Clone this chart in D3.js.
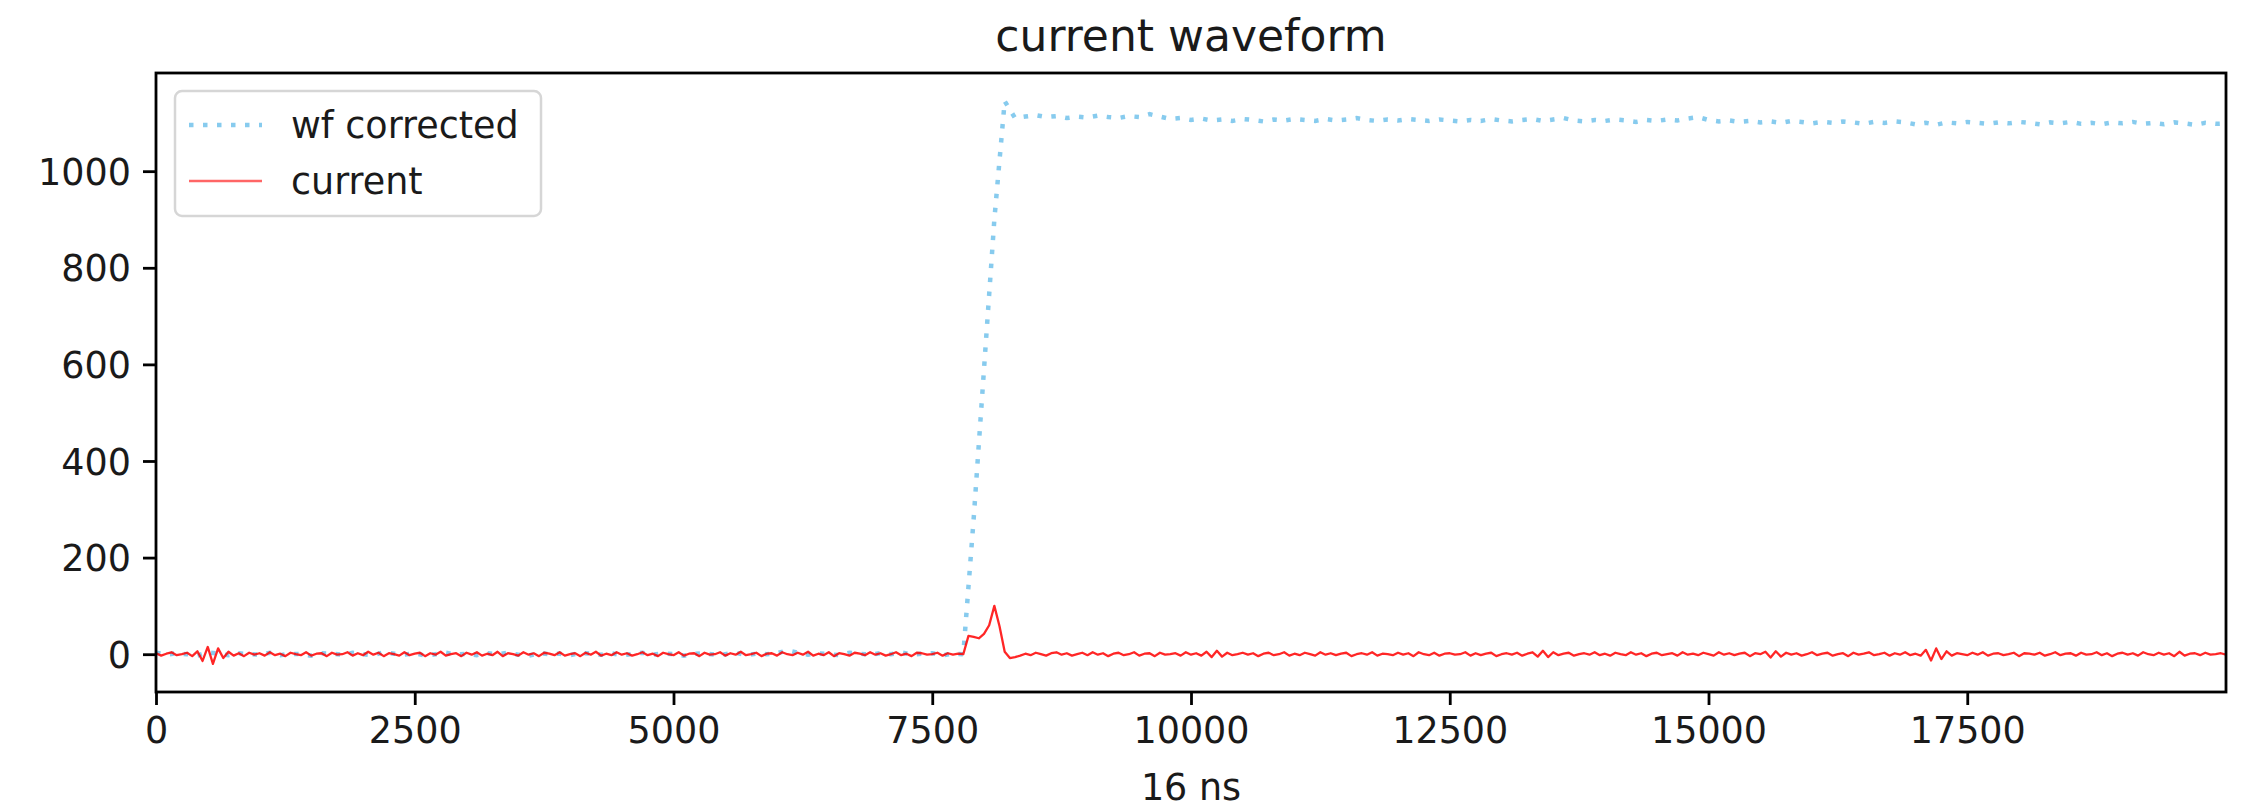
<!DOCTYPE html>
<html>
<head>
<meta charset="utf-8">
<script src="https://cdn.jsdelivr.net/npm/d3@7"></script>
<style>
  body { margin: 0; background: #fff; }
  text { font-family: 'DejaVu Sans', sans-serif; fill: #1a1a1a; }
</style>
</head>
<body>
<div id="chart-area"></div>
<script>
// sample spacing of the two traces (in 16 ns ticks)
const wfStep = 100;
const currentStep = 50;

const wfCorrected = [
  3, -1, 2, 0, -3, 4, 1, -2, 2, 0,
  -1, 3, -2, 1, 0, -3, 2, 1, -1, 3,
  0, -2, 4, 1, -1, 2, -3, 0, 3, -1,
  1, -2, 2, 0, 3, -1, -3, 2, 0, 1,
  -2, 3, 1, -1, 2, -2, 0, 3, -1, 2,
  0, -3, 1, 2, -1, 0, 3, -2, 1, 0,
  2, 8, 3, -1, 2, 0, -2, 3, 1, -1,
  2, 0, 4, -1, 1, 2, -2, 1, 0, 280,
  590, 900, 1145, 1110, 1113, 1116, 1112, 1114, 1110, 1113,
  1111, 1115, 1112, 1110, 1114, 1112, 1118, 1113, 1108, 1110,
  1106, 1109, 1105, 1107, 1104, 1108, 1106, 1103, 1107, 1105,
  1108, 1106, 1104, 1108, 1105, 1107, 1110, 1106, 1104, 1107,
  1105, 1108, 1106, 1104, 1107, 1105, 1103, 1106, 1104, 1108,
  1105, 1103, 1106, 1108, 1104, 1107, 1110, 1105, 1103, 1106,
  1104, 1107, 1105, 1102, 1106, 1104, 1107, 1105, 1109, 1112,
  1106, 1103, 1105, 1102, 1104, 1101, 1103, 1100, 1104, 1102,
  1099, 1102, 1100, 1103, 1101, 1098, 1102, 1100, 1103, 1101,
  1097, 1100, 1096, 1101, 1099, 1102, 1100, 1098, 1101, 1099,
  1102, 1100, 1097, 1101, 1099, 1102, 1098, 1100, 1097, 1101,
  1099, 1102, 1098, 1100, 1097, 1101, 1099, 1096, 1100, 1098,
  1099
];

const current = [
  2, -3, 1, 4, -2, 0, 3, -4, 6, -14, 15, -20, 12, -8, 5, -3, 2, -4, 3, -1,
  2, -3, 4, -2, 1, -4, 3, 0, -2, 4, -3, 1, 2, -4, 3, -1, 0, 4, -3, 2,
  -2, 5, -1, 3, -4, 2, 0, -3, 4, -2, 1, 3, -4, 2, -1, 5, -3, 0, 2, -4,
  3, -1, 4, -3, 1, -2, 5, -4, 2, 0, -3, 4, -1, 2, -4, 3, 1, -2, 4, -3,
  0, 2, -4, 3, -1, 5, -3, 1, -2, 4, -1, 2, -3, 0, 4, -2, 1, -4, 3, 0,
  -2, 4, -3, 1, 2, -4, 3, -1, 0, 4, -3, 2, -1, 5, -2, 0, 3, -4, 1, 2,
  -3, 4, 0, -2, 3, -1, 5, -3, 1, -2, 4, -4, 2, 0, -3, 3, 1, -2, 4, -1,
  2, -3, 0, 4, -2, 1, -4, 3, 2, -1, 0, 3, -3, 2, -1, 1, 0, 38, 36, 33,
  42, 60, 100, 58, 5, -8, -6, -3, 1, -2, 3, 0, -3, 2, 4, -1, 2, -3, 0, 3,
  -2, 4, -1, 2, -4, 1, 3, -2, 0, 4, -3, 1, 2, -4, 3, -1, 0, 2, -3, 4,
  -1, 2, -3, 5, -6, 7, -5, 3, -2, 0, 3, -1, 2, -4, 1, 3, -2, 0, 4, -3,
  1, -2, 3, 0, -3, 4, -1, 2, -2, 1, 3, -4, 0, 2, -1, 4, -3, 1, 0, -2,
  3, -1, 2, -4, 4, 0, -2, 3, -3, 1, 2, -1, 0, 4, -3, 2, -2, 1, 3, -4,
  0, 2, -1, 3, -3, 1, 4, -5, 7, -6, 4, -2, 1, 3, -3, 0, 2, -1, 4, -2,
  1, -3, 3, 0, -2, 4, -1, 2, -4, 1, 3, -2, 0, 2, -3, 4, -1, 1, -2, 3,
  0, -3, 4, -1, 2, -2, 1, 3, -4, 2, 0, 5, -7, 6, -5, 3, -1, 2, -3, 0,
  4, -2, 1, 3, -3, 0, 2, -4, 3, -1, 1, 4, -2, 0, 3, -3, 2, -1, 4, -2,
  1, -3, 9, -13, 12, -10, 6, -3, 2, 0, -2, 3, -1, 4, -3, 1, 2, -2, 0, 3,
  -4, 2, 1, -1, 3, -3, 0, 4, -2, 1, 2, -3, 3, -1, 0, 4, -2, 2, -4, 1,
  3, -1, 2, -3, 4, 0, -2, 3, -1, 2, -4, 5, -3, 1, 2, -2, 3, -1, 0, 2,
  -1
];

const xTicks = [0, 2500, 5000, 7500, 10000, 12500, 15000, 17500];
const yTicks = [0, 200, 400, 600, 800, 1000];
const seriesNames = ['wf corrected', 'current'];

const margins = { top: 73, right: 23, bottom: 117, left: 156 };
const fullWidth = 2249;
const fullHeight = 809;
const width = fullWidth - margins.left - margins.right;
const height = fullHeight - margins.top - margins.bottom;

const wfColor = '#87cbee';
const curColor = '#ff0000';

const svg = d3.select('#chart-area')
  .append('svg')
  .attr('width', fullWidth)
  .attr('height', fullHeight);

const g = svg.append('g')
  .attr('transform', 'translate(' + margins.left + ', ' + margins.top + ')');

const wfData = wfCorrected.map((v, i) => ({ x: i * wfStep, y: v }));
const curData = current.map((v, i) => ({ x: i * currentStep, y: v }));

// matplotlib style 5% padding on y
const yMin = d3.min(curData.concat(wfData), (d) => d.y);
const yMax = d3.max(curData.concat(wfData), (d) => d.y);
const pad = (yMax - yMin) * 0.05;

const x = d3.scaleLinear()
  .domain([0, 20000])
  .range([0, width]);

const y = d3.scaleLinear()
  .domain([yMin - pad, yMax + pad])
  .range([height, 0]);

svg.append('defs').append('clipPath')
  .attr('id', 'clip')
  .append('rect')
  .attr('width', width)
  .attr('height', height);

const line = d3.line()
  .x((d) => x(d.x))
  .y((d) => y(d.y));

const plot = g.append('g').attr('clip-path', 'url(#clip)');

plot.append('path')
  .datum(wfData)
  .attr('d', line)
  .attr('fill', 'none')
  .attr('stroke', wfColor)
  .attr('stroke-width', 4.5)
  .attr('stroke-dasharray', '4.5,9.5');

plot.append('path')
  .datum(curData)
  .attr('d', line)
  .attr('fill', 'none')
  .attr('stroke', curColor)
  .attr('stroke-opacity', 0.85)
  .attr('stroke-width', 2.3)
  .attr('stroke-linejoin', 'round');

// axes
const xAxis = d3.axisBottom(x)
  .tickValues(xTicks)
  .tickFormat(d3.format('d'))
  .tickSize(13)
  .tickPadding(10);

const yAxis = d3.axisLeft(y)
  .tickValues(yTicks)
  .tickFormat(d3.format('d'))
  .tickSize(13)
  .tickPadding(12);

const gx = g.append('g')
  .attr('transform', 'translate(0, ' + height + ')')
  .call(xAxis);

const gy = g.append('g').call(yAxis);

[gx, gy].forEach((ax) => {
  ax.select('.domain').remove();
  ax.selectAll('line').attr('stroke', '#000').attr('stroke-width', 2.8);
  ax.selectAll('text')
    .style('font-family', "'DejaVu Sans', sans-serif")
    .style('font-size', '36.5px')
    .attr('fill', '#1a1a1a');
});
gx.selectAll('text').attr('dy', '0.76em');
gy.selectAll('text').attr('dy', '0.36em');

// frame
g.append('rect')
  .attr('width', width)
  .attr('height', height)
  .attr('fill', 'none')
  .attr('stroke', '#000')
  .attr('stroke-width', 2.8);

// title and label
svg.append('text')
  .attr('x', margins.left + width / 2)
  .attr('y', 51)
  .attr('text-anchor', 'middle')
  .style('font-size', '44px')
  .text('current waveform');

svg.append('text')
  .attr('x', margins.left + width / 2)
  .attr('y', 800)
  .attr('text-anchor', 'middle')
  .style('font-size', '36.5px')
  .text('16 ns');

// legend
const legend = g.append('g').attr('transform', 'translate(19, 18)');

legend.append('rect')
  .attr('width', 366)
  .attr('height', 125)
  .attr('rx', 7)
  .attr('fill', '#fff')
  .attr('fill-opacity', 0.8)
  .attr('stroke', '#d6d6d6')
  .attr('stroke-width', 2.5);

const items = legend.selectAll('.item')
  .data(seriesNames)
  .enter()
  .append('g')
  .attr('transform', (d, i) => 'translate(14, ' + (34 + i * 56) + ')');

items.append('line')
  .attr('x1', 0)
  .attr('x2', 73)
  .attr('stroke', (d, i) => (i === 0 ? wfColor : curColor))
  .attr('stroke-opacity', (d, i) => (i === 0 ? 1 : 0.6))
  .attr('stroke-width', (d, i) => (i === 0 ? 4.5 : 2.5))
  .attr('stroke-dasharray', (d, i) => (i === 0 ? '4.5,9.5' : null));

items.append('text')
  .attr('x', 102)
  .attr('y', 13)
  .style('font-size', '36.5px')
  .text((d) => d);
</script>
</body>
</html>
